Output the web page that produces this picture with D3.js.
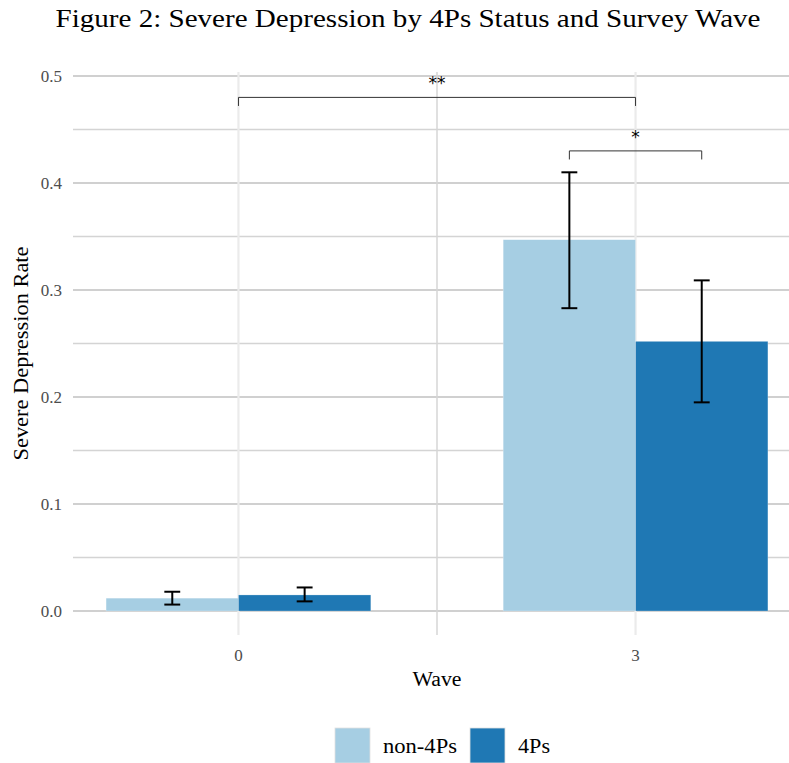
<!DOCTYPE html>
<html>
<head>
<meta charset="utf-8">
<script src="https://cdn.jsdelivr.net/npm/d3@7"></script>
<style>
  body { margin: 0; background: #fff; }
</style>
</head>
<body>
<div id="chart"></div>
<script>
// --- Data ---
const waves = [0, 3];
const groups = ["non-4Ps", "4Ps"];
const colors = ["#a6cee3", "#1f78b4"];
// mean rate per wave, one array per group
const rateNon4Ps = [0.012, 0.347];
const rate4Ps = [0.015, 0.252];
// confidence interval bounds
const lowNon4Ps = [0.006, 0.283];
const highNon4Ps = [0.018, 0.410];
const low4Ps = [0.009, 0.195];
const high4Ps = [0.022, 0.309];
const yTicks = [0, 0.1, 0.2, 0.3, 0.4, 0.5];
const yMinor = [0.05, 0.15, 0.25, 0.35, 0.45];
// significance brackets: from/to in x units, height, label
const brackets = [
  { x1: 0, x2: 3, y: 0.48, label: "**" },
  { x1: 2.5, x2: 3.5, y: 0.43, label: "*" }
];

const width = 789, height = 763;
const serif = "Liberation Serif, DejaVu Serif, serif";

const svg = d3.select("#chart").append("svg")
  .attr("width", width)
  .attr("height", height)
  .attr("font-family", serif);

// scales (x is continuous, bars are dodged by one unit)
const x = d3.scaleLinear().domain([-1.25, 4.25]).range([73, 801]);
const y = d3.scaleLinear().domain([0, 0.5]).range([611, 76]);
const panelTop = 72, panelBottom = 635;

// --- Grid ---
const grid = svg.append("g");
grid.selectAll(".hminor")
  .data(yMinor)
  .join("line")
  .attr("x1", 73).attr("x2", width)
  .attr("y1", d => y(d)).attr("y2", d => y(d))
  .attr("stroke", "#d4d4d4")
  .attr("stroke-width", 1.5);
grid.selectAll(".hmajor")
  .data(yTicks)
  .join("line")
  .attr("x1", 73).attr("x2", width)
  .attr("y1", d => y(d)).attr("y2", d => y(d))
  .attr("stroke", "#d0d0d0")
  .attr("stroke-width", 1.8);
grid.selectAll(".vmajor")
  .data(waves)
  .join("line")
  .attr("x1", d => x(d)).attr("x2", d => x(d))
  .attr("y1", panelTop).attr("y2", panelBottom)
  .attr("stroke", "#ebebeb")
  .attr("stroke-width", 2.2);
grid.append("line")
  .attr("x1", x(1.5)).attr("x2", x(1.5))
  .attr("y1", panelTop).attr("y2", panelBottom)
  .attr("stroke", "#d6d6d6")
  .attr("stroke-width", 1.5);

// --- Bars ---
const rows = [];
waves.forEach((w, i) => {
  rows.push({ wave: w, g: 0, rate: rateNon4Ps[i], lo: lowNon4Ps[i], hi: highNon4Ps[i] });
  rows.push({ wave: w, g: 1, rate: rate4Ps[i], lo: low4Ps[i], hi: high4Ps[i] });
});

svg.append("g").selectAll("rect")
  .data(rows)
  .join("rect")
  .attr("x", d => x(d.wave - 1 + d.g))
  .attr("width", d => x(d.wave + d.g) - x(d.wave - 1 + d.g))
  .attr("y", d => y(d.rate))
  .attr("height", d => y(0) - y(d.rate))
  .attr("fill", d => colors[d.g])
  .attr("stroke", "#ffffff")
  .attr("stroke-opacity", 0.4)
  .attr("stroke-width", 0.6);

// --- Error bars ---
const cap = 0.06;
const eb = svg.append("g")
  .attr("stroke", "#000")
  .attr("stroke-width", 2)
  .attr("fill", "none");
rows.forEach(d => {
  const cx = d.wave - 0.5 + d.g;
  eb.append("line")
    .attr("x1", x(cx)).attr("x2", x(cx))
    .attr("y1", y(d.lo)).attr("y2", y(d.hi));
  [d.lo, d.hi].forEach(v => {
    eb.append("line")
      .attr("x1", x(cx - cap)).attr("x2", x(cx + cap))
      .attr("y1", y(v)).attr("y2", y(v));
  });
});

// --- Significance brackets ---
const tick = 0.008;
const br = svg.append("g");
brackets.forEach(b => {
  br.append("path")
    .attr("d", `M${x(b.x1)},${y(b.y - tick)}V${y(b.y)}H${x(b.x2)}V${y(b.y - tick)}`)
    .attr("fill", "none")
    .attr("stroke", "#333")
    .attr("stroke-width", 1);
  br.append("text")
    .attr("x", x((b.x1 + b.x2) / 2))
    .attr("y", y(b.y) - 8)
    .attr("text-anchor", "middle")
    .attr("font-family", "DejaVu Sans, sans-serif")
    .attr("font-size", 17)
    .text(b.label);
});

// --- Axes labels ---
svg.append("g").selectAll("text")
  .data(yTicks)
  .join("text")
  .attr("x", 62)
  .attr("y", d => y(d))
  .attr("dy", "0.35em")
  .attr("text-anchor", "end")
  .attr("fill", "#4d4d4d")
  .attr("font-size", 17)
  .text(d => d3.format(".1f")(d));

svg.append("g").selectAll("text")
  .data(waves)
  .join("text")
  .attr("x", d => x(d))
  .attr("y", 661)
  .attr("text-anchor", "middle")
  .attr("fill", "#4d4d4d")
  .attr("font-size", 17)
  .text(d => d);

svg.append("text")
  .attr("x", x(1.5))
  .attr("y", 686)
  .attr("text-anchor", "middle")
  .attr("font-size", 20)
  .attr("textLength", 49)
  .attr("lengthAdjust", "spacingAndGlyphs")
  .text("Wave");

svg.append("text")
  .attr("transform", `translate(28,${(panelTop + panelBottom) / 2}) rotate(-90)`)
  .attr("text-anchor", "middle")
  .attr("font-size", 20)
  .attr("textLength", 214)
  .attr("lengthAdjust", "spacingAndGlyphs")
  .text("Severe Depression Rate");

// --- Title ---
svg.append("text")
  .attr("x", 408)
  .attr("y", 27)
  .attr("text-anchor", "middle")
  .attr("font-size", 26)
  .attr("textLength", 705)
  .attr("lengthAdjust", "spacingAndGlyphs")
  .text("Figure 2: Severe Depression by 4Ps Status and Survey Wave");

// --- Legend ---
const legendX = [335, 470];
const legendLen = [74, 32];
const legend = svg.append("g");
groups.forEach((name, i) => {
  legend.append("rect")
    .attr("x", legendX[i])
    .attr("y", 728)
    .attr("width", 35)
    .attr("height", 35)
    .attr("fill", colors[i])
    .attr("stroke", "#e0e0e0")
    .attr("stroke-width", 0.8);
  legend.append("text")
    .attr("x", legendX[i] + 48)
    .attr("y", 753)
    .attr("font-size", 21)
    .attr("textLength", legendLen[i])
    .attr("lengthAdjust", "spacingAndGlyphs")
    .text(name);
});
</script>
</body>
</html>
